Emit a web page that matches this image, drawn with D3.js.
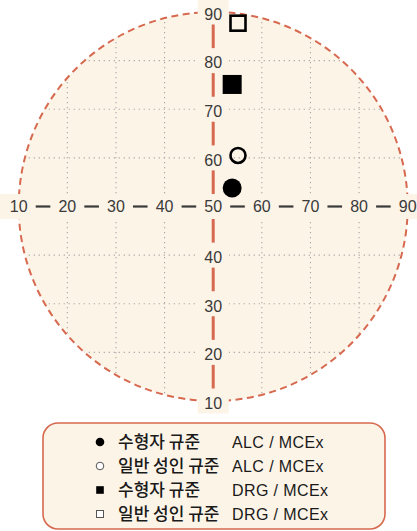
<!DOCTYPE html>
<html>
<head>
<meta charset="utf-8">
<script src="https://cdn.jsdelivr.net/npm/d3@7"></script>
<style>
  html, body { margin: 0; padding: 0; background: #ffffff; }
  svg { display: block; }
</style>
</head>
<body>
<script>
// ---- data ----
const tickValues = [10, 20, 30, 40, 50, 60, 70, 80, 90];
const gridValues = [20, 30, 40, 60, 70, 80];
const normNames = ["수형자 규준", "일반 성인 규준", "수형자 규준", "일반 성인 규준"];
const indexNames = ["ALC / MCEx", "ALC / MCEx", "DRG / MCEx", "DRG / MCEx"];
const xValues = [53.9, 55.1, 53.9, 55.1];
const yValues = [53.8, 60.5, 75.1, 87.7];
const markerTypes = ["circleFilled", "circleOpen", "squareFilled", "squareOpen"];

// ---- layout ----
const W = 417, H = 531;
const cx = 213.2, cy = 206.5, R = 194.5;
const cream = "#fdf4e8";
const red = "#d6694f";

const svg = d3.select("body").append("svg").attr("width", W).attr("height", H);

const x = d3.scaleLinear().domain([10, 90]).range([cx - R, cx + R]);
const y = d3.scaleLinear().domain([10, 90]).range([cy + R, cy - R]);

// circle fill
svg.append("circle").attr("cx", cx).attr("cy", cy).attr("r", R).attr("fill", cream);

// clip for grid
svg.append("clipPath").attr("id", "clip")
  .append("circle").attr("cx", cx).attr("cy", cy).attr("r", R);

const grid = svg.append("g").attr("clip-path", "url(#clip)")
  .attr("stroke", "#a9a6a6").attr("stroke-width", 1.1).attr("stroke-dasharray", "1.2,3.8");
grid.selectAll("line.v").data(gridValues).join("line")
  .attr("x1", d => x(d)).attr("x2", d => x(d)).attr("y1", cy - R).attr("y2", cy + R);
grid.selectAll("line.h").data(gridValues).join("line")
  .attr("y1", d => y(d)).attr("y2", d => y(d)).attr("x1", cx - R).attr("x2", cx + R);

// dashed circle outline
svg.append("circle").attr("cx", cx).attr("cy", cy).attr("r", R)
  .attr("fill", "none").attr("stroke", red).attr("stroke-width", 2)
  .attr("stroke-dasharray", "7,4.5");

// horizontal band
svg.append("rect").attr("x", 0).attr("y", cy - 12.5).attr("width", W).attr("height", 25).attr("fill", cream);

// vertical label boxes
const boxW = 31, boxH = 25;
svg.selectAll("rect.vbox").data(tickValues).join("rect")
  .attr("x", cx - boxW / 2).attr("y", d => y(d) - boxH / 2)
  .attr("width", boxW).attr("height", boxH).attr("fill", cream);

// horizontal axis dashes
const pairs = d3.pairs(tickValues);
svg.selectAll("line.hd").data(pairs).join("line")
  .attr("x1", d => x(d[0]) + 17).attr("x2", d => x(d[1]) - 17)
  .attr("y1", cy).attr("y2", cy)
  .attr("stroke", "#3a3a3a").attr("stroke-width", 2.2);

// vertical axis red segments
svg.selectAll("line.vd").data(pairs).join("line")
  .attr("y1", d => y(d[0]) - 12.5).attr("y2", d => y(d[1]) + 12.5)
  .attr("x1", cx).attr("x2", cx)
  .attr("stroke", red).attr("stroke-width", 3);

// labels
const lblFont = "'Liberation Sans', Arial, sans-serif";
svg.selectAll("text.hl").data(tickValues).join("text")
  .attr("x", d => x(d)).attr("y", cy).attr("dy", "0.36em")
  .attr("text-anchor", "middle").attr("font-family", lblFont)
  .attr("font-size", 16).attr("fill", "#3a3a3a").text(d => d);
svg.selectAll("text.vl").data(tickValues.filter(d => d !== 50)).join("text")
  .attr("x", cx).attr("y", d => y(d) + 2).attr("dy", "0.36em")
  .attr("text-anchor", "middle").attr("font-family", lblFont)
  .attr("font-size", 16).attr("fill", "#3a3a3a").text(d => d);

// points
const pts = xValues.map((v, i) => ({ x: v, y: yValues[i], m: markerTypes[i] }));
pts.forEach(p => {
  const px = x(p.x), py = y(p.y);
  if (p.m === "circleFilled") {
    svg.append("circle").attr("cx", px).attr("cy", py).attr("r", 9.5).attr("fill", "#000");
  } else if (p.m === "circleOpen") {
    svg.append("circle").attr("cx", px).attr("cy", py).attr("r", 7.5)
      .attr("fill", "none").attr("stroke", "#000").attr("stroke-width", 2.6);
  } else if (p.m === "squareFilled") {
    svg.append("rect").attr("x", px - 9.5).attr("y", py - 9.5).attr("width", 19).attr("height", 19).attr("fill", "#000");
  } else {
    svg.append("rect").attr("x", px - 7.5).attr("y", py - 7.5).attr("width", 15).attr("height", 15)
      .attr("fill", "none").attr("stroke", "#000").attr("stroke-width", 2.6);
  }
});

// legend
svg.append("rect").attr("x", 43).attr("y", 423).attr("width", 342).attr("height", 106)
  .attr("rx", 15).attr("fill", "#fdf4e8").attr("stroke", red).attr("stroke-width", 1.6);

const rowY = d3.scaleLinear().domain([0, 3]).range([442, 514]);
const lg = svg.append("g");
markerTypes.forEach((m, i) => {
  const yy = rowY(i), sx = 100;
  if (m === "circleFilled") {
    lg.append("circle").attr("cx", sx).attr("cy", yy).attr("r", 4.3).attr("fill", "#000");
  } else if (m === "circleOpen") {
    lg.append("circle").attr("cx", sx).attr("cy", yy).attr("r", 3.8)
      .attr("fill", "#fff").attr("stroke", "#555").attr("stroke-width", 1);
  } else if (m === "squareFilled") {
    lg.append("rect").attr("x", sx - 3.8).attr("y", yy - 3.8).attr("width", 7.6).attr("height", 7.6).attr("fill", "#000");
  } else {
    lg.append("rect").attr("x", sx - 3.5).attr("y", yy - 3.5).attr("width", 7).attr("height", 7)
      .attr("fill", "#fff").attr("stroke", "#555").attr("stroke-width", 1);
  }
  lg.append("text").attr("x", 118).attr("y", yy).attr("dy", "0.36em")
    .attr("font-family", "'Noto Sans CJK KR', sans-serif").attr("font-weight", 500)
    .attr("font-size", 17).attr("fill", "#1a1a1a").text(normNames[i]);
  lg.append("text").attr("x", 232).attr("y", yy).attr("dy", "0.36em")
    .attr("font-family", lblFont).attr("letter-spacing", 0.4)
    .attr("font-size", 16).attr("fill", "#1a1a1a").text(indexNames[i]);
});
</script>
</body>
</html>
